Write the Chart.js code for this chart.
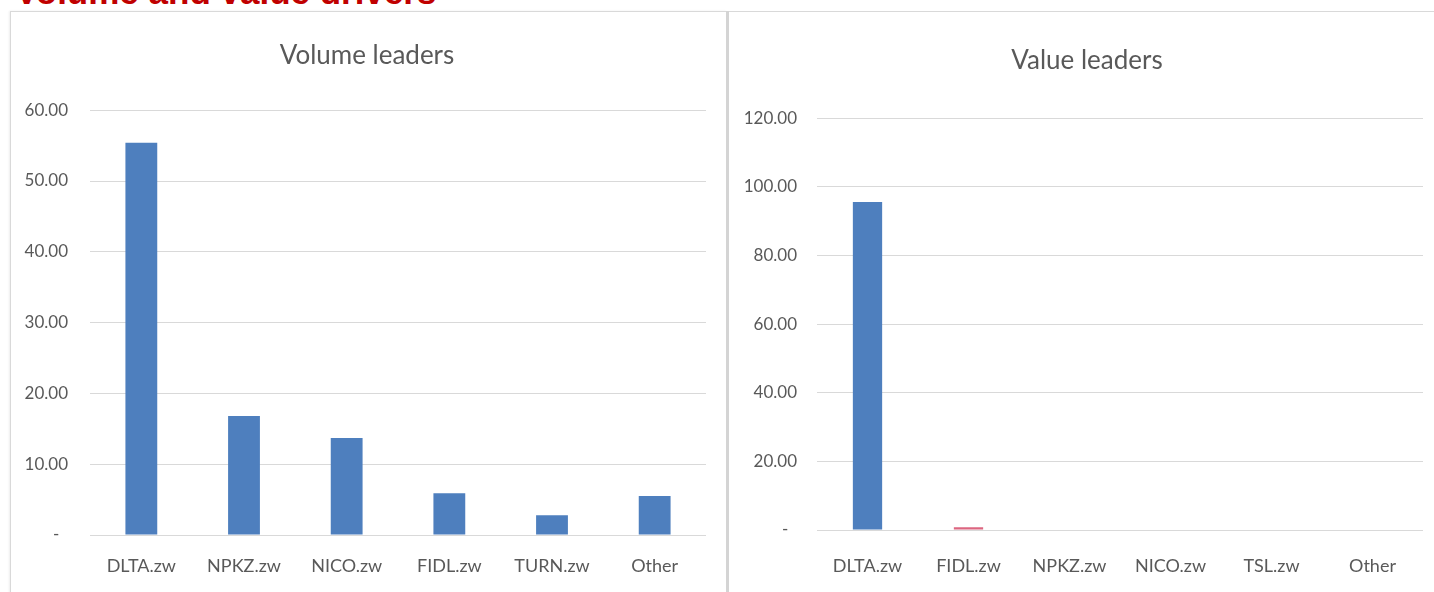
<!DOCTYPE html>
<html>
<head>
<meta charset="utf-8">
<script src="https://cdn.jsdelivr.net/npm/chart.js@4/dist/chart.umd.min.js"></script>
<style>
  html, body { margin: 0; padding: 0; background: #ffffff; overflow: hidden; }
  body { width: 1434px; height: 592px; position: relative; }
  #heading {
    position: absolute; left: 15px; top: -26px; margin: 0;
    font-family: 'Liberation Sans', Arial, sans-serif; font-weight: bold;
    font-size: 35px; line-height: 35px; color: #c00000; white-space: nowrap;
  }
  .panel { position: absolute; background: #ffffff; }
  #leftPanel { left: 10px; top: 11px; width: 716px; height: 600px; border-top: 1px solid #d9d9d9; border-left: 1px solid #d9d9d9; box-shadow: -1px 0 2px #eeeeee; }
  #sep { position: absolute; left: 726px; top: 11px; width: 3px; height: 600px; background: #d4d4d4; }
  #rightPanel { left: 729px; top: 11px; width: 705px; height: 600px; border-top: 1px solid #d9d9d9; }
  .box { position: absolute; }
  #leftBox { left: 12px; top: 12px; width: 713px; height: 580px; }
  #rightBox { left: 731px; top: 12px; width: 703px; height: 580px; }
</style>
</head>
<body>
<div id="heading">Volume and value drivers</div>
<div class="panel" id="leftPanel"></div>
<div class="panel" id="rightPanel"></div>
<div id="sep"></div>
<div class="box" id="leftBox"><canvas id="leftChart"></canvas></div>
<div class="box" id="rightBox"><canvas id="rightChart"></canvas></div>
<script>
// ---- data ----
const volumeCategories = ['DLTA.zw', 'NPKZ.zw', 'NICO.zw', 'FIDL.zw', 'TURN.zw', 'Other'];
const volumeValues = [55.4, 16.8, 13.7, 5.9, 2.8, 5.5];
const volumeTicks = [0, 10, 20, 30, 40, 50, 60];

const valueCategories = ['DLTA.zw', 'FIDL.zw', 'NPKZ.zw', 'NICO.zw', 'TSL.zw', 'Other'];
const valueValues = [95.6, 0.8, 0, 0, 0, 0];
const valueTicks = [0, 20, 40, 60, 80, 100, 120];

const volumeTitle = 'Volume leaders';
const valueTitle = 'Value leaders';

// ---- styling ----
const FONT = "Lato, 'Open Sans', sans-serif";
const TEXT = '#595959';
const GRID = '#d9d9d9';
const BLUE = '#4e7fbe';
const RED = '#dc6680';

function tickLabel(v) {
  return v === 0 ? '-  ' : Number(v).toFixed(2);
}

// shifts the title block horizontally (title is centred on the panel, not the canvas)
const titleShiftPlugin = {
  id: 'titleShift',
  afterLayout(chart, args, opts) {
    const t = chart.titleBlock;
    if (t && opts && opts.dx) {
      t.left += opts.dx;
      t.right += opts.dx;
    }
  }
};

function makeChart(id, cats, vals, ticks, title, cfg) {
  const max = ticks[ticks.length - 1];
  const step = ticks[1] - ticks[0];
  return new Chart(document.getElementById(id), {
    type: 'bar',
    data: {
      labels: cats,
      datasets: [{
        data: vals,
        backgroundColor: cfg.colors,
        borderWidth: 0,
        barPercentage: cfg.barPct,
        categoryPercentage: 1.0
      }]
    },
    plugins: [titleShiftPlugin],
    options: {
      responsive: true,
      maintainAspectRatio: false,
      animation: false,
      layout: { padding: { left: 0, right: cfg.padRight, top: 0, bottom: 0 } },
      plugins: {
        legend: { display: false },
        tooltip: { enabled: false },
        titleShift: { dx: cfg.titleDx },
        title: {
          display: true,
          text: title,
          color: TEXT,
          font: { family: FONT, size: 26, weight: 'normal', lineHeight: 1.2 },
          padding: { top: cfg.titleTop, bottom: cfg.titleBottom }
        }
      },
      scales: {
        x: {
          grid: { display: false, drawTicks: false },
          border: { display: false },
          ticks: { color: TEXT, font: { family: FONT, size: 18 }, padding: cfg.xPad, maxRotation: 0, autoSkip: false },
          afterFit: (s) => { s.height = cfg.xHeight; }
        },
        y: {
          min: 0,
          max: max,
          afterBuildTicks: (s) => { s.ticks = ticks.map(v => ({ value: v })); },
          grid: { color: GRID, lineWidth: 1, drawTicks: false },
          border: { display: false },
          ticks: { color: TEXT, font: { family: FONT, size: 17 }, padding: cfg.yPad, stepSize: step, callback: tickLabel },
          afterFit: (s) => { s.width = cfg.yWidth; }
        }
      }
    }
  });
}

makeChart('leftChart', volumeCategories, volumeValues, volumeTicks, volumeTitle, {
  colors: volumeCategories.map(() => BLUE),
  barPct: 0.31,
  padRight: 19,
  titleDx: 8,
  titleTop: 28,
  titleBottom: 39,
  xPad: 20,
  xHeight: 57,
  yPad: 22,
  yWidth: 78
});

makeChart('rightChart', valueCategories, valueValues, valueTicks, valueTitle, {
  colors: valueCategories.map((c, i) => i === 1 ? RED : BLUE),
  barPct: 0.29,
  padRight: 11,
  titleDx: 10,
  titleTop: 33,
  titleBottom: 42,
  xPad: 25,
  xHeight: 62,
  yPad: 20,
  yWidth: 86
});
</script>
</body>
</html>
